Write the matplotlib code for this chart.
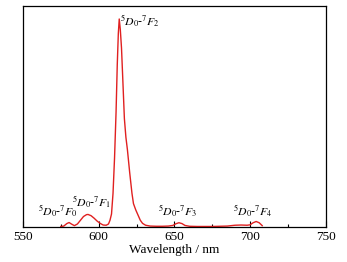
import matplotlib
matplotlib.use("Agg")
import matplotlib.pyplot as plt
from matplotlib.ticker import MultipleLocator

plt.rcParams['font.family'] = ['Liberation Serif', 'DejaVu Serif']
plt.rcParams['mathtext.fontset'] = 'stix'

# emission spectrum (peak normalised to 1)
wavelength = [575, 577, 579, 580.5, 582, 584, 586, 588, 590, 592, 593, 595, 597, 599,
              601, 603, 605, 606.5, 607.5, 608.5, 609.5, 610.5, 611.5, 612.3, 613, 613.6,
              614.3, 615.1, 616, 617, 618, 619, 620.5, 622, 623, 624.5, 626, 627.5, 629,
              631, 634, 638, 642, 646, 649, 651, 653, 655, 657, 660, 665, 670, 675, 680,
              685, 690, 694, 698, 700, 702, 704, 706, 708]
intensity = [0.0, 0.002, 0.014, 0.019, 0.012, 0.004, 0.012, 0.03, 0.048, 0.057, 0.058,
             0.052, 0.04, 0.026, 0.015, 0.007, 0.006, 0.012, 0.03, 0.06, 0.16, 0.33, 0.55,
             0.78, 0.93, 1.0, 0.95, 0.86, 0.7, 0.52, 0.43, 0.37, 0.26, 0.16, 0.11, 0.08,
             0.055, 0.03, 0.015, 0.006, 0.002, 0.001, 0.001, 0.002, 0.005, 0.013, 0.018,
             0.014, 0.005, 0.001, 0.0, 0.0, 0.0, 0.001, 0.002, 0.006, 0.007, 0.006, 0.008,
             0.018, 0.024, 0.018, 0.004]

labels = [r'$^{5}\mathit{D}_{0}$-$^{7}\mathit{F}_{0}$',
          r'$^{5}\mathit{D}_{0}$-$^{7}\mathit{F}_{1}$',
          r'$^{5}\mathit{D}_{0}$-$^{7}\mathit{F}_{2}$',
          r'$^{5}\mathit{D}_{0}$-$^{7}\mathit{F}_{3}$',
          r'$^{5}\mathit{D}_{0}$-$^{7}\mathit{F}_{4}$']
label_x = [573.4, 595, 627.5, 652, 702]
label_y = [0.074, 0.118, 0.99, 0.074, 0.074]

fig = plt.figure(figsize=(3.47, 2.62), dpi=100)
ax = fig.add_axes([0.066, 0.134, 0.873, 0.843])
ax.plot(wavelength, intensity, color='#e02020', lw=1.0)

for t, x, y in zip(labels, label_x, label_y):
    ax.text(x, y, t, ha='center', va='center', fontsize=8.5)

ax.set_xlim(550, 750)
ax.set_ylim(-0.002, 1.0625)
ax.xaxis.set_major_locator(MultipleLocator(50))
ax.xaxis.set_minor_locator(MultipleLocator(25))
ax.tick_params(axis='x', which='major', direction='in', length=4, width=0.8, labelsize=9.5, pad=3)
ax.tick_params(axis='x', which='minor', direction='in', length=2.5, width=0.8)
ax.set_yticks([])
for s in ax.spines.values():
    s.set_linewidth(0.9)
ax.set_xlabel('Wavelength / nm', fontsize=9.5, labelpad=1)

fig.savefig('out.png', dpi=100)
